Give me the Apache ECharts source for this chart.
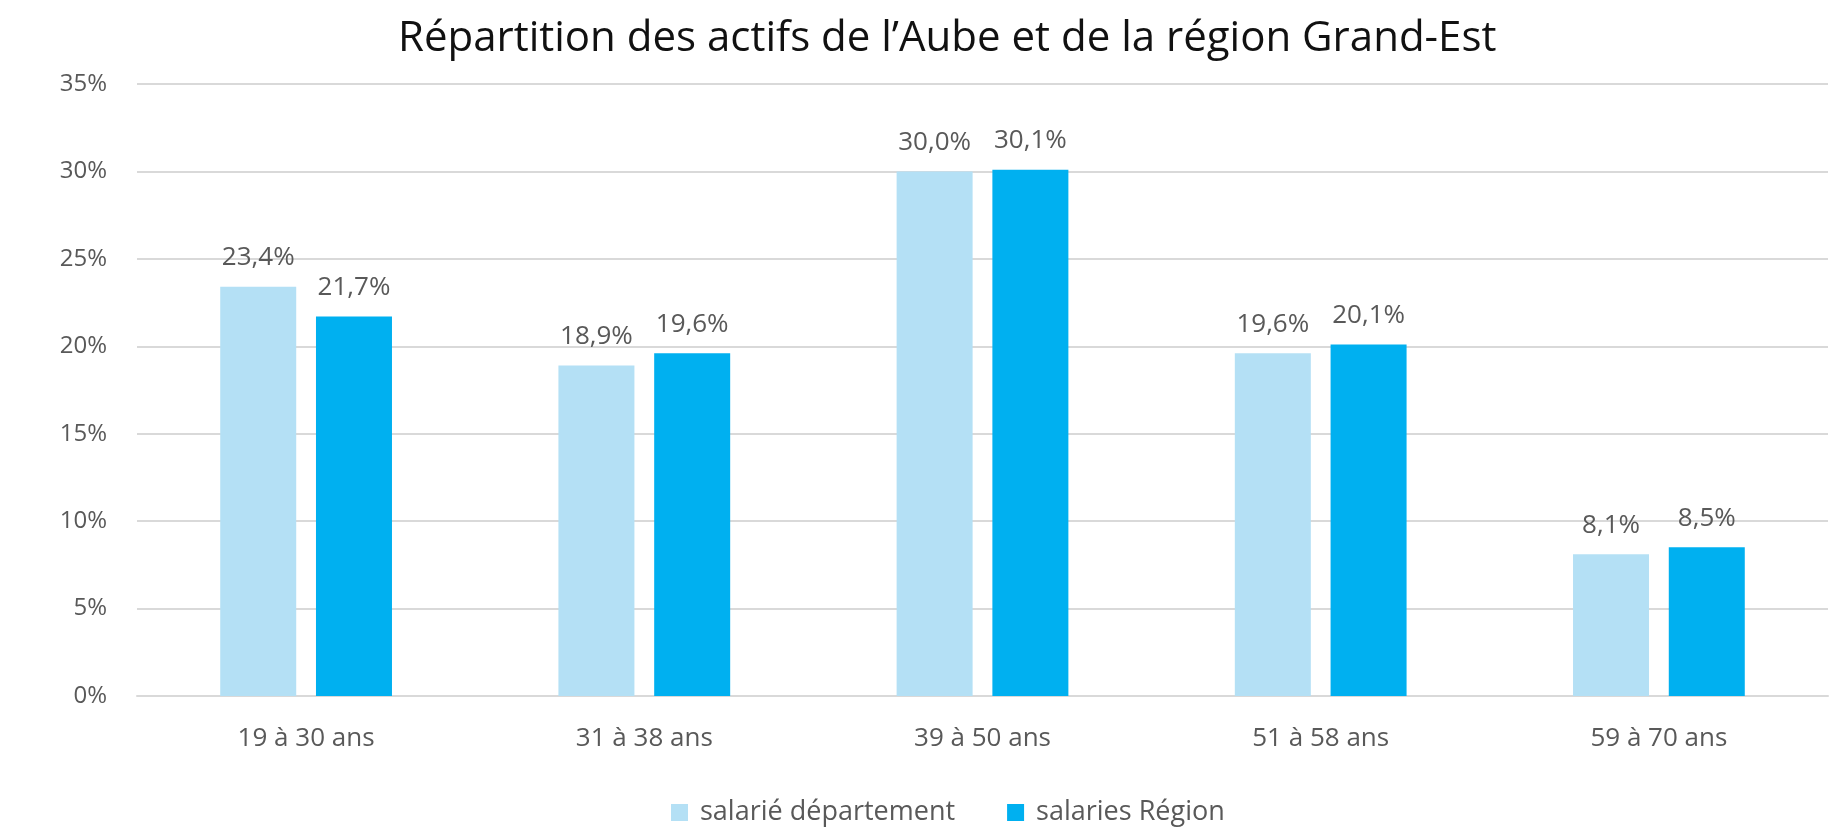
<!DOCTYPE html>
<html>
<head>
<meta charset="utf-8">
<script src="https://cdn.jsdelivr.net/npm/echarts@6/dist/echarts.min.js"></script>
<style>
  html, body { margin: 0; padding: 0; background: #fff; }
  #chart { width: 1843px; height: 833px; }
</style>
</head>
<body>
<div id="chart"></div>
<script>
// data
const categories = ['19 à 30 ans', '31 à 38 ans', '39 à 50 ans', '51 à 58 ans', '59 à 70 ans'];
const salarieDepartement = [23.4, 18.9, 30.0, 19.6, 8.1];
const salariesRegion = [21.7, 19.6, 30.1, 20.1, 8.5];
const seriesNames = ['salarié département', 'salaries Région'];

const fmt = v => v.toFixed(1).replace('.', ',') + '%';
const font = "'Open Sans', sans-serif";

const chart = echarts.init(document.getElementById('chart'));

const labelStyle = {
  show: true,
  position: 'top',
  distance: 16,
  fontFamily: font,
  fontSize: 26,
  color: '#595959',
  formatter: p => fmt(p.value)
};

chart.setOption({
  backgroundColor: '#fff',
  title: {
    text: 'Répartition des actifs de l’Aube et de la région Grand-Est',
    left: 393,
    top: 13,
    textStyle: {
      fontFamily: font,
      fontSize: 42,
      fontWeight: 'normal',
      color: '#111'
    }
  },
  legend: {
    left: 666,
    top: 794,
    itemWidth: 17,
    itemHeight: 17,
    itemGap: 52,
    icon: 'rect',
    textStyle: { fontFamily: font, fontSize: 27, color: '#595959', padding: [0, 0, 0, 7] },
    data: seriesNames
  },
  grid: {
    left: 137,
    right: 15,
    top: 84,
    bottom: 137,
    containLabel: false
  },
  xAxis: {
    type: 'category',
    data: categories,
    axisLine: { show: true, lineStyle: { color: '#D9D9D9', width: 2 } },
    axisTick: { show: false },
    axisLabel: {
      margin: 30,
      fontFamily: font,
      fontSize: 26,
      color: '#595959'
    }
  },
  yAxis: {
    type: 'value',
    min: 0,
    max: 35,
    interval: 5,
    axisLine: { show: false },
    axisTick: { show: false },
    axisLabel: {
      margin: 30,
      fontFamily: font,
      fontSize: 24,
      color: '#595959',
      formatter: v => v + '%'
    },
    splitLine: { lineStyle: { color: '#D9D9D9', width: 2 } }
  },
  series: [
    {
      name: seriesNames[0],
      type: 'bar',
      data: salarieDepartement,
      barWidth: 76,
      barGap: '26%',
      itemStyle: { color: '#B4E0F5' },
      label: labelStyle
    },
    {
      name: seriesNames[1],
      type: 'bar',
      data: salariesRegion,
      barWidth: 76,
      barGap: '26%',
      itemStyle: { color: '#00B0F0' },
      label: labelStyle
    }
  ]
});
</script>
</body>
</html>
